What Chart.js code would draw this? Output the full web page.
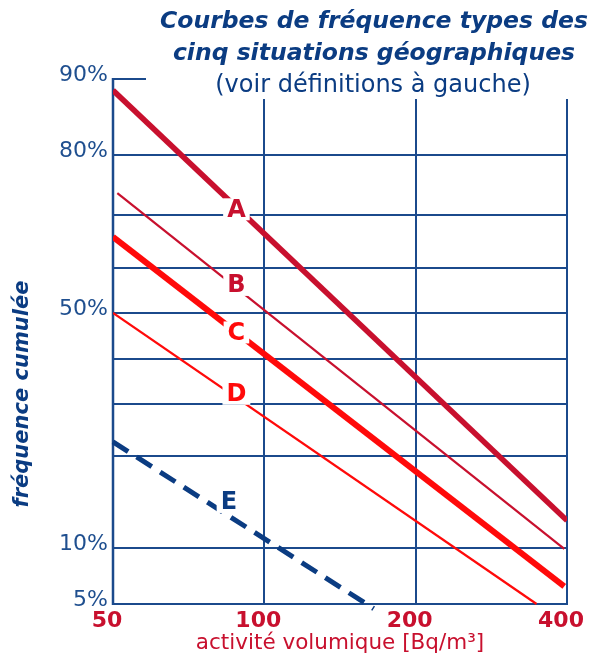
<!DOCTYPE html>
<html><head><meta charset="utf-8">
<script src="https://cdn.jsdelivr.net/npm/chart.js@4.4.1/dist/chart.umd.min.js"></script>
<style>html,body{margin:0;padding:0;background:#fff}#wrap{width:597px;height:657px;position:relative}</style>
</head><body><div id="wrap"><canvas id="c"></canvas></div>
<script>
// ---- data ----
const xTicks = [50, 100, 200, 400];
const yTicks = [5, 10, 20, 30, 40, 50, 60, 70, 80, 90];
const yTickLabels = ['5%', '10%', '', '', '', '50%', '', '', '80%', '90%'];
const seriesNames = ['A', 'B', 'C', 'D', 'E'];
const xA = [50, 400], yA = [88.8, 12.5];
const xB = [51, 395], yB = [73.9, 9.9];
const xC = [50, 395], yC = [66.0, 6.3];
const xD = [50, 348], yD = [50.0, 5.0];
const xE = [50, 165], yE = [22.5, 4.7];
const titleLines = ['Courbes de fréquence types des', 'cinq situations géographiques'];
const subtitleText = '(voir définitions à gauche)';
const xTitle = 'activité volumique [Bq/m³]';
const yTitle = 'fréquence cumulée';

// ---- styles ----
const NAVY = '#0b3c82', GRID = '#1b4a8c', DARKRED = '#c8102e', RED = '#ff0a0a';
const FONT = '"DejaVu Sans", Verdana, sans-serif';

// ---- probability (probit) scale ----
function probit(p){
  const a=[-3.969683028665376e+01,2.209460984245205e+02,-2.759285104469687e+02,1.383577518672690e+02,-3.066479806614716e+01,2.506628277459239e+00];
  const b=[-5.447609879822406e+01,1.615858368580409e+02,-1.556989798598866e+02,6.680131188771972e+01,-1.328068155288572e+01];
  const c=[-7.784894002430293e-03,-3.223964580411365e-01,-2.400758277161838e+00,-2.549732539343734e+00,4.374664141464968e+00,2.938163982698783e+00];
  const d=[7.784695709041462e-03,3.224671290700398e-01,2.445134137142996e+00,3.754408661907416e+00];
  const pl=0.02425, ph=1-pl;
  if(p<pl){const q=Math.sqrt(-2*Math.log(p));return (((((c[0]*q+c[1])*q+c[2])*q+c[3])*q+c[4])*q+c[5])/((((d[0]*q+d[1])*q+d[2])*q+d[3])*q+1);}
  if(p<=ph){const q=p-0.5,r=q*q;return (((((a[0]*r+a[1])*r+a[2])*r+a[3])*r+a[4])*r+a[5])*q/(((((b[0]*r+b[1])*r+b[2])*r+b[3])*r+b[4])*r+1);}
  const q=Math.sqrt(-2*Math.log(1-p));return -(((((c[0]*q+c[1])*q+c[2])*q+c[3])*q+c[4])*q+c[5])/((((d[0]*q+d[1])*q+d[2])*q+d[3])*q+1);
}
// relative position of each probability grid line on the printed sheet
const probGridFrac = [0, 0.1067, 0.2819, 0.381, 0.4667, 0.5543, 0.64, 0.741, 0.855, 1];
const probZ = yTicks.map(t => probit(t / 100));
function probDecimal(v){
  const z = probit(Math.min(Math.max(v, 0.01), 99.99) / 100);
  let i = 0;
  while (i < probZ.length - 2 && z > probZ[i + 1]) i++;
  return probGridFrac[i] + (z - probZ[i]) / (probZ[i + 1] - probZ[i]) * (probGridFrac[i + 1] - probGridFrac[i]);
}
class ProbabilityScale extends Chart.LinearScale {
  determineDataLimits(){ this.min = yTicks[0]; this.max = yTicks[yTicks.length - 1]; }
  buildTicks(){ return yTicks.map(v => ({ value: v })); }
  getPixelForValue(v){ return this.getPixelForDecimal(probDecimal(v)); }
  getValueForPixel(px){
    const dec = this.getDecimalForPixel(px);
    let lo = 0.01, hi = 99.99;
    for (let k = 0; k < 60; k++){ const m = (lo + hi) / 2; if (probDecimal(m) < dec) lo = m; else hi = m; }
    return (lo + hi) / 2;
  }
}
ProbabilityScale.id = 'probability';
ProbabilityScale.defaults = { ticks: { callback: v => v } };
Chart.register(ProbabilityScale);

// ---- plugins ----
const gridPlugin = {
  id: 'sheetGrid',
  beforeDatasetsDraw(chart){
    const {ctx, chartArea: ca, scales: {x, y}} = chart;
    ctx.save();
    ctx.strokeStyle = GRID; ctx.lineWidth = 2;
    yTicks.forEach((t, i) => {
      const py = Math.round(y.getPixelForValue(t));
      ctx.beginPath();
      if (i === yTicks.length - 1) { ctx.moveTo(ca.left, py); ctx.lineTo(ca.left + 33, py); }
      else { ctx.moveTo(ca.left, py); ctx.lineTo(ca.right, py); }
      ctx.stroke();
    });
    xTicks.forEach((t, i) => {
      const px = Math.round(x.getPixelForValue(t));
      ctx.beginPath();
      ctx.moveTo(px, i === 0 ? ca.top - 1 : ca.top + 20);
      ctx.lineTo(px, ca.bottom + 1);
      ctx.lineWidth = i === 0 ? 2.5 : 2;
      ctx.stroke();
    });
    ctx.restore();
  }
};
const letterOffsets = { A: [88, 2], B: [88, -3], C: [88, 0], D: [88, -4], E: [85, -14] };
const letterPlugin = {
  id: 'letters',
  afterDatasetsDraw(chart){
    const {ctx, scales: {x}} = chart;
    ctx.save();
    ctx.font = 'bold 24px ' + FONT;
    ctx.textAlign = 'center'; ctx.textBaseline = 'middle';
    chart.data.datasets.forEach((ds, i) => {
      const pts = chart.getDatasetMeta(i).data;
      const [lx, dy] = letterOffsets[ds.label];
      const px = x.getPixelForValue(lx);
      const t = (px - pts[0].x) / (pts[1].x - pts[0].x);
      const py = pts[0].y + t * (pts[1].y - pts[0].y) + dy;
      const w = ctx.measureText(ds.label).width + 8;
      ctx.fillStyle = '#fff';
      ctx.fillRect(px - w / 2, py - 11, w, 22);
      ctx.fillStyle = ds.borderColor;
      ctx.fillText(ds.label, px, py + 1);
    });
    ctx.restore();
  }
};
const textPlugin = {
  id: 'texts',
  afterDraw(chart){
    const {ctx} = chart;
    ctx.save();
    ctx.fillStyle = NAVY; ctx.textAlign = 'center'; ctx.textBaseline = 'alphabetic';
    ctx.font = 'italic bold 23.5px ' + FONT;
    ctx.fillText(titleLines[0], 374, 28);
    ctx.fillText(titleLines[1], 374, 60);
    ctx.font = '24px ' + FONT;
    ctx.fillText(subtitleText, 373, 92);
    ctx.translate(23, 394); ctx.rotate(-Math.PI / 2);
    ctx.textBaseline = 'middle';
    ctx.font = 'italic bold 21px ' + FONT;
    ctx.fillText(yTitle, 0, 0);
    ctx.restore();
  }
};

const mk = (xs, ys) => xs.map((v, i) => ({ x: v, y: ys[i] }));
const seriesX = [xA, xB, xC, xD, xE], seriesY = [yA, yB, yC, yD, yE];
const styles = [
  { borderColor: DARKRED, borderWidth: 5.5 },
  { borderColor: DARKRED, borderWidth: 2.2 },
  { borderColor: RED, borderWidth: 6 },
  { borderColor: RED, borderWidth: 2.2 },
  { borderColor: NAVY, borderWidth: 5, borderDash: [18, 10], clip: false }
];

new Chart(document.getElementById('c'), {
  type: 'line',
  data: {
    datasets: seriesNames.map((n, i) => Object.assign({
      label: n, data: mk(seriesX[i], seriesY[i]), pointRadius: 0, borderCapStyle: 'butt', tension: 0, fill: false
    }, styles[i]))
  },
  options: {
    responsive: true, maintainAspectRatio: false, animation: false,
    layout: { padding: { top: 79, right: 30, left: 0, bottom: 0 } },
    plugins: { legend: { display: false }, tooltip: { enabled: false }, title: { display: false } },
    scales: {
      x: {
        type: 'logarithmic', min: xTicks[0], max: xTicks[xTicks.length - 1],
        afterBuildTicks: s => { s.ticks = xTicks.map(v => ({ value: v })); },
        afterFit: s => { s.height = 53; },
        grid: { display: false, drawTicks: false }, border: { display: false },
        ticks: { autoSkip: false, maxRotation: 0, padding: 4, labelOffset: -6, color: DARKRED,
          font: { family: FONT, size: 22, weight: 'bold' }, callback: v => String(v) },
        title: { display: true, text: xTitle, color: DARKRED, font: { family: FONT, size: 21.5 }, padding: { top: 0, bottom: 1 } }
      },
      y: {
        type: 'probability',
        afterFit: s => { s.width = 113; },
        grid: { display: false, drawTicks: false }, border: { display: false },
        ticks: { autoSkip: false, padding: 5, labelOffset: -4, color: '#1f4f8f',
          font: { family: FONT, size: 22 }, callback: (v, i) => yTickLabels[yTicks.indexOf(v)] }
      }
    }
  },
  plugins: [gridPlugin, letterPlugin, textPlugin]
});
</script></body></html>
